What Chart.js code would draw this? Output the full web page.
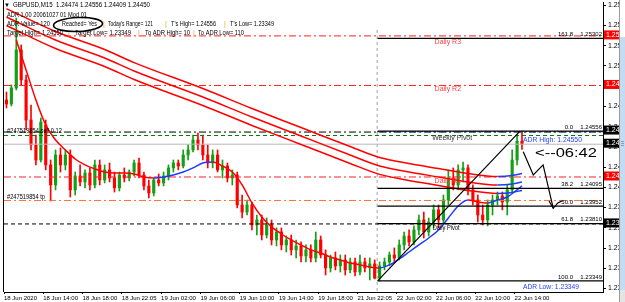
<!DOCTYPE html>
<html><head><meta charset="utf-8">
<script src="https://cdn.jsdelivr.net/npm/chart.js@4.4.1/dist/chart.umd.min.js"></script>
<style>html,body{margin:0;padding:0;background:#fff;overflow:hidden}#wrap{width:625px;height:302px;position:relative}</style>
</head><body><div id="wrap"><canvas id="c" width="625" height="302"></canvas></div>
<script>
// ---- time axis ----
const timeLabels = ['18 Jun 2020','18 Jun 14:00','18 Jun 18:00','18 Jun 22:05','19 Jun 02:00','19 Jun 06:00','19 Jun 10:00','19 Jun 14:00','19 Jun 18:00','21 Jun 22:05','22 Jun 02:00','22 Jun 06:00','22 Jun 10:00','22 Jun 14:00'];
const timeLabelSlots = [-0.5,7.5,15.5,23.5,31.5,39.5,47.5,55.5,63.5,71.5,79.5,87.5,95.5,103.5];
const slotMin = -0.5, slotMax = 121.5;
// ---- price axis ----
const priceMin = 1.23260, priceMax = 1.25595;
const priceTicks = [1.25570,1.25407,1.25244,1.25081,1.24918,1.24755,1.24592,1.24429,1.24266,1.24103,1.23940,1.23777,1.23614,1.23451,1.23288];
// ---- candles (GBPUSD) ----
const candleOpen = [1.24806,1.24774,1.24903,1.25209,1.24967,1.24645,1.24444,1.24323,1.24605,1.24283,
1.24122,1.24363,1.24283,1.24363,1.24082,1.24194,1.24146,1.24218,1.24122,1.24283,
1.24162,1.24243,1.24178,1.24098,1.24202,1.24178,1.24226,1.24299,1.24202,1.24114,
1.24057,1.24162,1.24138,1.24194,1.24259,1.24299,1.24275,1.24363,1.24404,1.24484,
1.24444,1.24363,1.24299,1.24363,1.24243,1.24275,1.24178,1.24202,1.23961,1.23904,
1.23961,1.23800,1.23840,1.23719,1.23800,1.23679,1.23743,1.23639,1.23679,1.23599,
1.23631,1.23550,1.23599,1.23534,1.23679,1.23558,1.23454,1.23534,1.23470,1.23518,
1.23438,1.23502,1.23421,1.23502,1.23454,1.23486,1.23373,1.23470,1.23502,1.23558,
1.23534,1.23639,1.23711,1.23663,1.23760,1.23840,1.23743,1.23824,1.23921,1.23840,
1.24001,1.24178,1.24122,1.24243,1.24259,1.24082,1.24001,1.23880,1.23840,1.23961,
1.24001,1.24033,1.23985,1.24082,1.24323,1.24474];
const candleHigh = [1.24870,1.24927,1.25466,1.25249,1.25007,1.24766,1.24524,1.24661,1.24645,1.24323,
1.24404,1.24420,1.24404,1.24404,1.24226,1.24283,1.24243,1.24259,1.24323,1.24323,
1.24283,1.24299,1.24226,1.24226,1.24259,1.24243,1.24323,1.24339,1.24226,1.24162,
1.24178,1.24210,1.24226,1.24283,1.24323,1.24323,1.24404,1.24444,1.24524,1.24540,
1.24524,1.24444,1.24404,1.24404,1.24323,1.24299,1.24243,1.24226,1.24041,1.24001,
1.23985,1.23880,1.23880,1.23856,1.23840,1.23776,1.23776,1.23711,1.23719,1.23679,
1.23663,1.23639,1.23639,1.23743,1.23711,1.23599,1.23558,1.23582,1.23558,1.23558,
1.23534,1.23534,1.23558,1.23534,1.23534,1.23518,1.23502,1.23534,1.23582,1.23615,
1.23679,1.23743,1.23760,1.23792,1.23880,1.23904,1.23856,1.23961,1.23961,1.24041,
1.24243,1.24259,1.24283,1.24307,1.24283,1.24122,1.24041,1.23961,1.24001,1.24041,
1.24065,1.24065,1.24122,1.24404,1.24530,1.24556];
const candleLow = [1.24742,1.24758,1.24887,1.24927,1.24565,1.24404,1.24283,1.24307,1.24243,1.23993,
1.24082,1.24226,1.24243,1.24025,1.24041,1.24114,1.24098,1.24082,1.24098,1.24122,
1.24138,1.24146,1.24065,1.24073,1.24146,1.24154,1.24194,1.24178,1.24082,1.24017,
1.24033,1.24114,1.24114,1.24162,1.24226,1.24243,1.24259,1.24323,1.24387,1.24404,
1.24323,1.24259,1.24259,1.24226,1.24178,1.24146,1.24122,1.23937,1.23856,1.23880,
1.23760,1.23719,1.23679,1.23695,1.23639,1.23631,1.23599,1.23582,1.23558,1.23534,
1.23502,1.23502,1.23502,1.23502,1.23534,1.23397,1.23421,1.23438,1.23421,1.23397,
1.23413,1.23389,1.23397,1.23421,1.23357,1.23365,1.23349,1.23438,1.23470,1.23502,
1.23518,1.23599,1.23631,1.23639,1.23719,1.23695,1.23711,1.23776,1.23776,1.23800,
1.23961,1.24082,1.24082,1.24146,1.24041,1.23961,1.23824,1.23800,1.23792,1.23880,
1.23961,1.23921,1.23880,1.24065,1.24283,1.24409];
const candleClose = [1.24774,1.24903,1.25209,1.24967,1.24645,1.24444,1.24323,1.24629,1.24283,1.24122,
1.24363,1.24283,1.24363,1.24082,1.24194,1.24146,1.24218,1.24122,1.24283,1.24162,
1.24243,1.24178,1.24098,1.24202,1.24178,1.24226,1.24299,1.24202,1.24114,1.24057,
1.24162,1.24138,1.24194,1.24259,1.24299,1.24275,1.24363,1.24404,1.24484,1.24444,
1.24363,1.24299,1.24363,1.24243,1.24275,1.24178,1.24202,1.23961,1.23904,1.23961,
1.23800,1.23840,1.23719,1.23800,1.23679,1.23743,1.23639,1.23679,1.23599,1.23631,
1.23550,1.23599,1.23534,1.23679,1.23558,1.23454,1.23534,1.23470,1.23518,1.23438,
1.23502,1.23421,1.23502,1.23454,1.23486,1.23373,1.23470,1.23502,1.23558,1.23534,
1.23639,1.23711,1.23663,1.23760,1.23840,1.23743,1.23824,1.23921,1.23840,1.24001,
1.24178,1.24122,1.24243,1.24259,1.24082,1.24001,1.23880,1.23840,1.23961,1.24001,
1.24033,1.23985,1.24082,1.24323,1.24474,1.24450];
// ---- moving averages ----
const fastIdx = [2,4,6,8,10,12,14,16,18,20,22,24,26,28,30,32,34,36,38,40,42,44,46,48,50,52,54,56,58,60,62,64,66,68,70,72,74,76,78,80,82,84,86,88,90,92,94,96,98,100,102,104,105];
const fastMA = [1.25289,1.25048,1.24806,1.24605,1.24484,1.24404,1.24331,1.24283,1.24251,1.24226,1.24218,1.24218,1.24210,1.24186,1.24178,1.24186,1.24202,1.24226,1.24259,1.24299,1.24307,1.24275,1.24226,1.24122,1.23977,1.23864,1.23784,1.23727,1.23679,1.23639,1.23599,1.23574,1.23542,1.23518,1.23494,1.23478,1.23462,1.23454,1.23478,1.23526,1.23582,1.23639,1.23695,1.23760,1.23856,1.23953,1.24001,1.23985,1.23977,1.24001,1.24025,1.24082,1.24114];
const envIdx = [0,10,20,26,40,50,60,70,76,82,88,94,100,103,105];
const envUpper = [1.25542,1.25357,1.25212,1.25107,1.24898,1.24737,1.24584,1.24431,1.24343,1.24294,1.24254,1.24214,1.24190,1.24198,1.24214];
const envMiddle = [1.25474,1.25289,1.25144,1.25039,1.24830,1.24669,1.24516,1.24363,1.24275,1.24226,1.24186,1.24146,1.24122,1.24130,1.24146];
const envLower = [1.25406,1.25221,1.25076,1.24971,1.24762,1.24601,1.24448,1.24295,1.24207,1.24158,1.24118,1.24078,1.24054,1.24062,1.24078];
// ---- levels ----
const dailyR3 = 1.25322, dailyR2 = 1.24923, dailyR1 = 1.24186, dailyPivot = 1.23808;
const sellPrice = 1.24548, stopPrice = 1.24520, tpPrice = 1.23997, bidPrice = 1.24450;
const adrHigh = 1.24550, adrLow = 1.23349, weeklyPivot = 1.24536;
const fibNames = ['0.0','38.2','50.0','61.8','100.0','161.8'];
const fibPrices = [1.24556,1.24095,1.23952,1.23810,1.23349,1.25302];
const weekStartSlot = 75.5;
const fibTrendX = [75.6,104.6], fibTrendY = [1.23349,1.24556];
const arrowX = [105.26,107.3,109.3,111.37], arrowY = [1.24390,1.24202,1.24283,1.23934];
const arrowHeadX = [110.5,111.37,112.3,113.1], arrowHeadY = [1.23993,1.23934,1.23977,1.23993];

const upColor = '#14a014', dnColor = '#ff0000';
const bull = candleClose.map((c,i)=>c>=candleOpen[i]);
const candleCols = bull.map(b=>b?upColor:dnColor);

function hLine(v,color,dash,x0,x1,w,order){
  return {type:'line',data:[{x:x0,y:v},{x:x1,y:v}],borderColor:color,borderDash:dash,borderWidth:w||1,pointRadius:0,fill:false,order:order||20};
}
const slopeColor = c => c.p1.parsed.y > c.p0.parsed.y ? '#1e3cff' : '#ff0000';
function maLine(idx, vals, w, order){
  return {type:'line',data:idx.map((x,i)=>({x,y:vals[i]})),borderColor:'#ff0000',segment:{borderColor:slopeColor},borderWidth:w,pointRadius:0,cubicInterpolationMode:'monotone',fill:false,order};
}

const datasets = [
  {type:'bar',data:candleHigh.map((h,i)=>({x:i,y:[candleLow[i],h]})),backgroundColor:candleCols,barThickness:1,grouped:false,order:30},
  {type:'bar',data:candleOpen.map((o,i)=>({x:i,y:[o,candleClose[i]]})),backgroundColor:candleCols,barThickness:2.5,minBarLength:1,grouped:false,order:29},
  {type:'line',data:[{x:weekStartSlot,y:1.25370},{x:weekStartSlot,y:priceMin}],borderColor:'#a0a0a0',borderDash:[3,3],borderWidth:1,pointRadius:0,order:25},
  hLine(dailyR3,'#ff2020',[7,3,2,3],slotMin,slotMax,1,20),
  hLine(dailyR2,'#ff2020',[7,3,2,3],slotMin,slotMax,1,20),
  hLine(dailyR1,'#ff2020',[7,3,2,3],slotMin,slotMax,1,20),
  hLine(dailyPivot,'#000000',[4,3],slotMin,slotMax,1,20),
  hLine(sellPrice,'#000000',[7,3,2,3],slotMin,slotMax,1,20),
  hLine(stopPrice,'#008000',[4,3],slotMin,slotMax,1,20),
  hLine(tpPrice,'#ff7030',[7,3,2,3],slotMin,slotMax,1,20),
  hLine(bidPrice,'#b8b8b8',[],slotMin,slotMax,1,21),
  hLine(adrHigh,'#2030ff',[2,2],weekStartSlot,slotMax,1,19),
  maLine(envIdx,envUpper,1.5,10),
  maLine(envIdx,envMiddle,1.5,10),
  maLine(envIdx,envLower,1.5,10),
  maLine(fastIdx,fastMA,1.5,9),
];
fibPrices.forEach(p=>datasets.push(hLine(p,'#000000',[],75.6,slotMax,1.3,8)));
datasets.push({type:'line',data:fibTrendX.map((x,i)=>({x,y:fibTrendY[i]})),borderColor:'#000',borderWidth:1.2,pointRadius:0,order:7});
datasets.push({type:'line',data:arrowX.map((x,i)=>({x,y:arrowY[i]})),borderColor:'#000',borderWidth:1.2,pointRadius:0,order:1});
datasets.push({type:'line',data:arrowHeadX.map((x,i)=>({x,y:arrowHeadY[i]})),borderColor:'#000',borderWidth:1.2,pointRadius:0,order:1});

const FONT = '"Liberation Sans", Arial, sans-serif';
function txt(ctx,s,px,py,size,color,width,align,bold){
  ctx.save();
  ctx.font=(bold?'bold ':'')+size+'px '+FONT;
  ctx.fillStyle=color; ctx.textBaseline='middle'; ctx.textAlign=align||'left';
  const w=ctx.measureText(s).width;
  const sx = width ? width/w : 1;
  ctx.translate(px,py); ctx.scale(sx,1);
  ctx.fillText(s,0,0);
  ctx.restore();
}

const overlay = {
  id:'overlay',
  afterDraw(chart){
    const {ctx, chartArea:a, scales:{x,y}} = chart;
    const X = v=>x.getPixelForValue(v), Y = v=>y.getPixelForValue(v);
    ctx.save();
    // left frame
    ctx.strokeStyle='#000'; ctx.lineWidth=1;
    ctx.beginPath(); ctx.moveTo(a.left-0.5,0); ctx.lineTo(a.left-0.5,a.bottom); ctx.stroke();
    // level labels
    txt(ctx,'Daily R3',X(87.2),Y(dailyR3)+6.5,7,'#ff4040');
    txt(ctx,'Daily R2',X(87.2),Y(dailyR2)+3.5,7,'#ff4040');
    txt(ctx,'Daily R1',X(87.2),Y(dailyR1)+4,7,'#ff4040');
    txt(ctx,'Daily Pivot',X(86.8),Y(dailyPivot)+4.5,7,'#000',27);
    txt(ctx,'Weekly Pivot',X(86.7),Y(weeklyPivot)+4.5,7,'#333',40);
    txt(ctx,'ADR High: '+adrHigh.toFixed(5),X(105.2),Y(adrHigh)+8,8,'#2040ff',59);
    txt(ctx,'ADR Low: '+adrLow.toFixed(5),X(105.2),Y(adrLow)+6,8,'#2040ff',56);
    txt(ctx,'#247519854 sell 0.12',7,Y(sellPrice)-1,7,'#000',55);
    txt(ctx,'#247519854 tp',7,Y(tpPrice)-3,7,'#000',38);
    fibNames.forEach((n,i)=>{
      const py=Y(fibPrices[i])-4;
      txt(ctx,n,573,py,6,'#000',null,'right');
      txt(ctx,fibPrices[i].toFixed(5),602,py,6,'#000',null,'right');
    });
    txt(ctx,'<--06:42',535,153,13,'#000',62);
    // header
    const last=candleClose.length-1;
    txt(ctx,'\u25BC',4,5.5,6,'#000');
    txt(ctx,'GBPUSD,M15  '+candleOpen[last].toFixed(5)+' '+candleHigh[last].toFixed(5)+' '+candleLow[last].toFixed(5)+' '+candleClose[last].toFixed(5),13,5.5,7,'#000',137);
    txt(ctx,'ADR 1.00 20061027 01 Mod 01',7,15,7,'#000',80);
    const org='#f0a020';
    txt(ctx,'ADR Value= 120',7,24,7,'#000',43);
    txt(ctx,'Reached= Yes',62,24,7,'#000',35);
    txt(ctx,'|',103,24,7,org);
    txt(ctx,"Today's Range= 121",108,24,7,'#000',45);
    txt(ctx,'|',165,24,7,org);
    txt(ctx,"T's High= "+candleHigh[last].toFixed(5),171,24,7,'#000',45);
    txt(ctx,'|',224,24,7,org);
    txt(ctx,"T's Low= "+adrLow.toFixed(5),230,24,7,'#000',44);
    txt(ctx,'Target High= '+adrHigh.toFixed(5),7,33,7,'#000',56);
    txt(ctx,'|',68,33,7,org);
    txt(ctx,'Target Low= '+adrLow.toFixed(5),75,33,7,'#000',56);
    txt(ctx,'|',138,33,7,org);
    txt(ctx,'To ADR High= 10',145,33,7,'#000',45);
    txt(ctx,'|',193,33,7,org);
    txt(ctx,'To ADR Low= 110',198,33,7,'#000',46);
    ctx.strokeStyle='#000'; ctx.lineWidth=1.6;
    ctx.beginPath(); ctx.ellipse(78,24.5,24.5,7,-0.04,0,Math.PI*2); ctx.stroke();
    // price boxes on axis
    const boxes=[[dailyR3,'#ff0000'],[dailyR2,'#ff0000'],[fibPrices[0],'#000'],[bidPrice,'#000'],[dailyR1,'#ff0000'],[dailyPivot,'#000']];
    boxes.forEach(([v,c])=>{
      const py=Y(v)-1;
      ctx.fillStyle=c; ctx.fillRect(a.right+1,py-4.5,20,9);
      txt(ctx,v.toFixed(5),a.right+3,py,7,'#fff');
    });
    // right window edge
    ctx.fillStyle='#fff'; ctx.fillRect(619.5,0,6,302);
    ctx.fillStyle='#c4dcf2'; ctx.fillRect(620,37,5,253);
    ctx.fillStyle='#e4e4e4'; ctx.fillRect(620,290,5,12);
    ctx.strokeStyle='#9a9a9a'; ctx.lineWidth=1;
    ctx.beginPath(); ctx.moveTo(619.5,0); ctx.lineTo(619.5,302); ctx.stroke();
    ctx.strokeStyle='#7f9fbf';
    [141.5,143.5,145.5].forEach(yy=>{ctx.beginPath();ctx.moveTo(621,yy);ctx.lineTo(624,yy);ctx.stroke();});
    ctx.restore();
  }
};

new Chart(document.getElementById('c'),{
  type:'bar',
  data:{datasets},
  options:{
    responsive:false, animation:false, devicePixelRatio:1,
    layout:{padding:{left:4,top:2,right:0,bottom:0}},
    plugins:{legend:{display:false},tooltip:{enabled:false}},
    scales:{
      x:{type:'linear',min:slotMin,max:slotMax,offset:false,position:'bottom',
        afterBuildTicks:s=>{s.ticks=timeLabelSlots.map(v=>({value:v}));},
        afterFit:s=>{s.height=10;s.paddingLeft=0;s.paddingRight=0;},
        ticks:{autoSkip:false,maxRotation:0,minRotation:0,align:'start',padding:1,color:'#000',font:{family:FONT,size:6},callback:(v,i)=>timeLabels[i]},
        grid:{display:true,drawOnChartArea:false,offset:false,tickLength:2,color:'#000'},
        border:{display:true,color:'#000'}},
      y:{type:'linear',position:'right',min:priceMin,max:priceMax,
        afterBuildTicks:s=>{s.ticks=priceTicks.map(v=>({value:v}));},
        afterFit:s=>{s.width=22;s.paddingTop=0;s.paddingBottom=0;},
        ticks:{padding:2,color:'#000',font:{family:FONT,size:7},callback:v=>Number(v).toFixed(5)},
        grid:{display:true,drawOnChartArea:false,tickLength:3,color:'#000'},
        border:{display:true,color:'#000'}}
    }
  },
  plugins:[overlay]
});
</script></body></html>
